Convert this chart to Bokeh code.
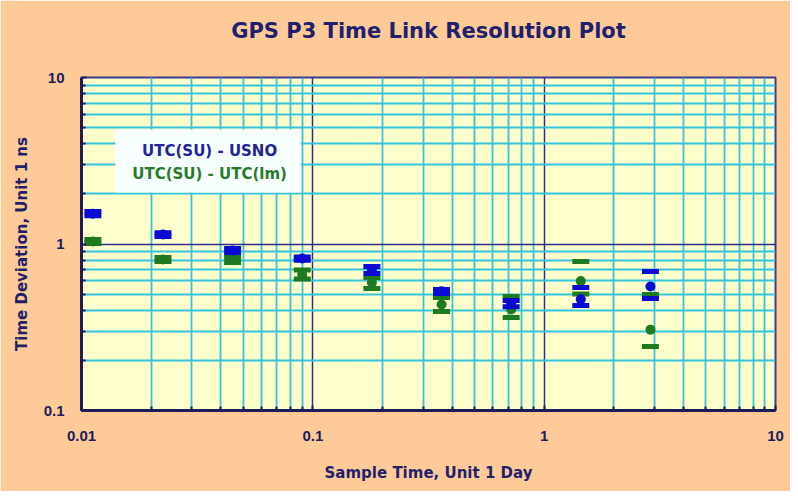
from bokeh.plotting import figure
from bokeh.models import FixedTicker, BoxAnnotation, Label, ColumnDataSource, Title
from bokeh.embed import file_html
from bokeh.resources import INLINE

# ---- data ----
tau = [0.0112, 0.0225, 0.045, 0.09, 0.18, 0.36, 0.72, 1.44, 2.88]  # sample time, days

usno_mid = [1.52, 1.14, 0.914, 0.818, 0.70, 0.52, 0.44, 0.465, 0.556]
usno_hi = [1.57, 1.17, 0.94, 0.835, 0.733, 0.533, 0.458, 0.548, 0.684]
usno_lo = [1.48, 1.11, 0.89, 0.80, 0.665, 0.505, 0.42, 0.427, 0.47]

lm_mid = [1.035, 0.807, 0.80, 0.656, 0.587, 0.433, 0.404, 0.60, 0.306]
lm_hi = [1.064, 0.83, 0.83, 0.698, 0.63, 0.478, 0.484, 0.785, 0.498]
lm_lo = [1.007, 0.785, 0.774, 0.616, 0.54, 0.393, 0.362, 0.50, 0.242]

x_ticks = [0.01, 0.1, 1, 10]
x_tick_labels = ["0.01", "0.1", "1", "10"]
y_ticks = [0.1, 1, 10]
y_tick_labels = ["0.1", "1", "10"]

series_names = ["UTC(SU) - USNO", "UTC(SU) - UTC(lm)"]
title_text = "GPS P3 Time Link Resolution Plot"

# ---- styles ----
NAVY = "#1C1C5A"
TXT = "#1F1F6E"
BLUE = "#0A0AD2"
GREEN = "#1E7A1E"
CYAN = "#36C3DD"
FONT = "DejaVu Sans"

p = figure(width=790, height=491, x_axis_type="log", y_axis_type="log",
           x_range=(0.01, 10), y_range=(0.1, 10),
           output_backend="svg", toolbar_location=None,
           min_border_left=81, min_border_right=15,
           min_border_top=77, min_border_bottom=81)

p.background_fill_color = "#FFFFCC"
p.border_fill_color = "#FECB98"
p.outline_line_color = "#3B3B8F"
p.outline_line_width = 2

# blank spacer between frame and title, then the title itself
p.add_layout(Title(text=" ", text_font_size="10px", standoff=17), "above")
p.add_layout(Title(text=title_text, text_font=FONT, text_font_size="21px",
                   text_font_style="bold", text_color=TXT, align="center",
                   offset=-6, standoff=10), "above")

minor_x = [m * 10.0 ** k for k in range(-2, 1) for m in range(2, 10)]
minor_y = [m * 10.0 ** k for k in range(-1, 1) for m in range(2, 10)]
p.xaxis.ticker = FixedTicker(ticks=x_ticks, minor_ticks=minor_x)
p.yaxis.ticker = FixedTicker(ticks=y_ticks, minor_ticks=minor_y)
p.xaxis.major_label_overrides = {t: s for t, s in zip(x_ticks, x_tick_labels)}
p.yaxis.major_label_overrides = {t: s for t, s in zip(y_ticks, y_tick_labels)}

for ax in (p.xaxis, p.yaxis):
    ax.axis_line_color = NAVY
    ax.axis_line_width = 3
    ax.major_tick_in = 5
    ax.major_tick_out = 0
    ax.minor_tick_in = 4
    ax.minor_tick_out = 0
    ax.major_tick_line_color = NAVY
    ax.minor_tick_line_color = NAVY
    ax.major_tick_line_width = 2
    ax.minor_tick_line_width = 2
    ax.major_label_text_font = "Liberation Sans"
    ax.major_label_text_font_style = "bold"
    ax.major_label_text_font_size = "15px"
    ax.major_label_text_color = NAVY
    ax.axis_label_text_font = FONT
    ax.axis_label_text_font_style = "bold"
    ax.axis_label_text_font_size = "15px"
    ax.axis_label_text_color = TXT

p.xaxis.axis_label = "Sample Time, Unit 1 Day"
p.yaxis.axis_label = "Time Deviation, Unit 1 ns"
p.xaxis.major_label_standoff = 20
p.xaxis.axis_label_standoff = 20
p.yaxis.major_label_standoff = 17
p.yaxis.axis_label_standoff = 10

for g in (p.xgrid, p.ygrid):
    g.grid_line_color = "#2E2E8E"
    g.grid_line_width = 1.5
    g.minor_grid_line_color = CYAN
    g.minor_grid_line_width = 1.8

# ---- legend box ----
p.add_layout(BoxAnnotation(left=0.0140, right=0.0887, bottom=2.04, top=4.87,
                           fill_color="#F8FFFF", fill_alpha=1.0, line_color=None,
                           level="underlay"))
for name, col, yy in zip(series_names, ["#22229C", "#2A7A2A"], [3.64, 2.65]):
    p.add_layout(Label(x=0.0358, y=yy, text=name, text_align="center",
                       text_baseline="middle", text_font=FONT,
                       text_font_style="bold", text_font_size="15px",
                       text_color=col))

# ---- data marks ----
for mid, hi, lo, col in [(lm_mid, lm_hi, lm_lo, GREEN), (usno_mid, usno_hi, usno_lo, BLUE)]:
    src = ColumnDataSource(dict(x=tau, mid=mid, hi=hi, lo=lo))
    p.rect(x="x", y="hi", width=17, height=5, width_units="screen",
           height_units="screen", fill_color=col, line_color=None, source=src)
    p.rect(x="x", y="lo", width=17, height=5, width_units="screen",
           height_units="screen", fill_color=col, line_color=None, source=src)
    p.scatter(x="x", y="mid", marker="circle", size=10, fill_color=col,
              line_color=None, source=src)

open("out.html", "w").write(file_html(p, INLINE))
